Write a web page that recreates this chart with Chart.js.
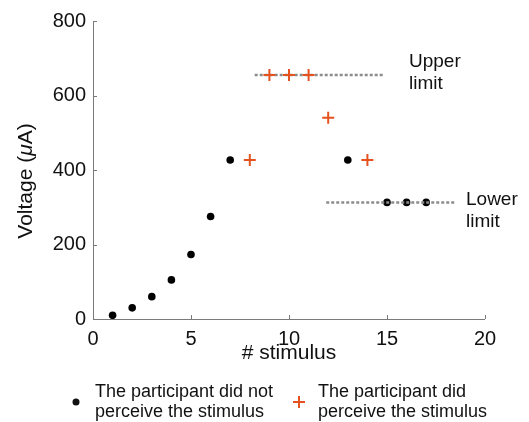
<!DOCTYPE html>
<html>
<head>
<meta charset="utf-8">
<script src="https://cdn.jsdelivr.net/npm/chart.js@4.4.0/dist/chart.umd.min.js"></script>
<style>
  html, body { margin: 0; padding: 0; background: #fff; }
  #wrap { width: 529px; height: 422px; }
</style>
</head>
<body>
<div id="wrap"><canvas id="chart" width="529" height="422"></canvas></div>
<script>
// data
const notPerceivedX = [1, 2, 3, 4, 5, 6, 7, 13, 15, 16, 17];
const notPerceivedY = [10, 30, 60, 105, 173, 275, 427, 427, 313, 313, 313];
const perceivedX = [8, 9, 10, 11, 12, 14];
const perceivedY = [427, 655, 655, 655, 540, 427];
const upperLimitX = [8.25, 14.8];
const upperLimitY = [655, 655];
const lowerLimitX = [11.9, 18.45];
const lowerLimitY = [313, 313];
const xTicks = [0, 5, 10, 15, 20];
const yTicks = [0, 200, 400, 600, 800];

const FONT = "'Liberation Sans', Arial, Helvetica, sans-serif";
const ORANGE = "#e4521f";
const GRAY = "#8c8c8c";

const toPts = (xs, ys) => xs.map((x, i) => ({ x: x, y: ys[i] }));

// axes with inward ticks, MATLAB style (box off)
const axesPlugin = {
  id: "axesPlugin",
  beforeDatasetsDraw(chart) {
    const { ctx, chartArea: a, scales } = chart;
    ctx.save();
    ctx.strokeStyle = "#7a7a7a";
    ctx.lineWidth = 1;
    ctx.beginPath();
    ctx.moveTo(a.left + 0.5, a.top);
    ctx.lineTo(a.left + 0.5, a.bottom + 0.5);
    ctx.lineTo(a.right, a.bottom + 0.5);
    xTicks.forEach((t) => {
      const px = Math.round(scales.x.getPixelForValue(t)) + 0.5;
      ctx.moveTo(px, a.bottom);
      ctx.lineTo(px, a.bottom - 4);
    });
    yTicks.forEach((t) => {
      const py = Math.round(scales.y.getPixelForValue(t)) + 0.5;
      ctx.moveTo(a.left, py);
      ctx.lineTo(a.left + 4, py);
    });
    ctx.stroke();
    ctx.restore();
  },
  afterDraw(chart) {
    const { ctx } = chart;
    ctx.save();
    ctx.fillStyle = "#111";
    ctx.textBaseline = "middle";
    ctx.textAlign = "left";

    // y title, with italic mu
    ctx.save();
    ctx.translate(26, 181);
    ctx.rotate(-Math.PI / 2);
    const parts = [
      ["Voltage (", "21px " + FONT],
      ["μ", "italic 21px " + FONT],
      ["A)", "21px " + FONT],
    ];
    let total = 0;
    parts.forEach((p) => { ctx.font = p[1]; total += ctx.measureText(p[0]).width; });
    let xx = -total / 2;
    parts.forEach((p) => {
      ctx.font = p[1];
      ctx.fillText(p[0], xx, 0);
      xx += ctx.measureText(p[0]).width;
    });
    ctx.restore();

    ctx.font = "19px " + FONT;
    // limit labels
    ctx.fillText("Upper", 409, 62);
    ctx.fillText("limit", 409, 84);
    ctx.fillText("Lower", 466, 200);
    ctx.fillText("limit", 466, 222);

    // legend
    ctx.font = "18px " + FONT;
    ctx.fillText("The participant did not", 95, 392);
    ctx.fillText("perceive the stimulus", 95, 412);
    ctx.fillText("The participant did", 318, 392);
    ctx.fillText("perceive the stimulus", 318, 412);
    ctx.beginPath();
    ctx.arc(76, 402, 3.5, 0, Math.PI * 2);
    ctx.fill();
    ctx.strokeStyle = ORANGE;
    ctx.lineWidth = 2;
    ctx.beginPath();
    ctx.moveTo(293, 402);
    ctx.lineTo(305, 402);
    ctx.moveTo(299, 396);
    ctx.lineTo(299, 408);
    ctx.stroke();
    ctx.restore();
  },
};

new Chart(document.getElementById("chart"), {
  type: "scatter",
  data: {
    datasets: [
      {
        label: "The participant did not perceive the stimulus",
        data: toPts(notPerceivedX, notPerceivedY),
        pointStyle: "circle",
        pointRadius: 3.8,
        backgroundColor: "#000",
        borderColor: "#000",
        borderWidth: 0,
        order: 3,
      },
      {
        label: "Upper limit",
        type: "line",
        data: toPts(upperLimitX, upperLimitY),
        borderColor: GRAY,
        borderWidth: 2.5,
        borderDash: [3, 2],
        pointRadius: 0,
        fill: false,
        order: 2,
      },
      {
        label: "Lower limit",
        type: "line",
        data: toPts(lowerLimitX, lowerLimitY),
        borderColor: GRAY,
        borderWidth: 2.5,
        borderDash: [3, 2],
        pointRadius: 0,
        fill: false,
        order: 2,
      },
      {
        label: "The participant did perceive the stimulus",
        data: toPts(perceivedX, perceivedY),
        pointStyle: "cross",
        pointRadius: 6,
        borderColor: ORANGE,
        backgroundColor: ORANGE,
        borderWidth: 2,
        order: 1,
      },
    ],
  },
  options: {
    responsive: false,
    animation: false,
    layout: { padding: { top: 21, right: 44, bottom: 54, left: 0 } },
    plugins: {
      legend: { display: false },
      tooltip: { enabled: false },
    },
    scales: {
      x: {
        type: "linear",
        min: 0,
        max: 20,
        afterBuildTicks: (s) => { s.ticks = xTicks.map((v) => ({ value: v })); },
        afterFit: (s) => { s.height = 49; },
        grid: { display: false, drawTicks: false },
        border: { display: false },
        ticks: { color: "#111", padding: 8, font: { family: FONT, size: 20 } },
        title: {
          display: true,
          text: "# stimulus",
          color: "#111",
          padding: { top: 0, bottom: 2 },
          font: { family: FONT, size: 21 },
        },
      },
      y: {
        type: "linear",
        min: 0,
        max: 800,
        afterBuildTicks: (s) => { s.ticks = yTicks.map((v) => ({ value: v })); },
        afterFit: (s) => { s.width = 93; },
        grid: { display: false, drawTicks: false },
        border: { display: false },
        ticks: { color: "#111", padding: 7, font: { family: FONT, size: 20 } },
        title: { display: false },
      },
    },
  },
  plugins: [axesPlugin],
});
</script>
</body>
</html>
